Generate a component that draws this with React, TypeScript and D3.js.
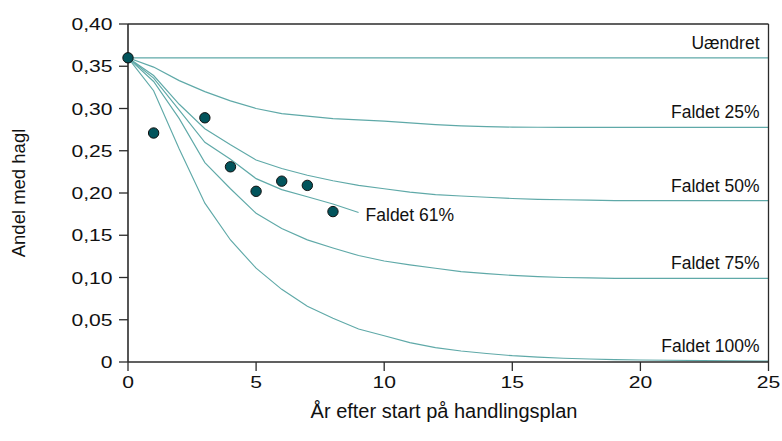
import React from "react";
import * as d3 from "d3";

const years = [0, 1, 2, 3, 4, 5, 6, 7, 8, 9, 10, 11, 12, 13, 14, 15, 16, 17, 18, 19, 20, 25];

const uaendret = [0.36, 0.36, 0.36, 0.36, 0.36, 0.36, 0.36, 0.36, 0.36, 0.36, 0.36, 0.36, 0.36, 0.36, 0.36, 0.36, 0.36, 0.36, 0.36, 0.36, 0.36, 0.36];
const faldet25 = [0.36, 0.349, 0.333, 0.32, 0.309, 0.3, 0.294, 0.291, 0.288, 0.2865, 0.285, 0.283, 0.281, 0.2795, 0.2785, 0.278, 0.2778, 0.2777, 0.2777, 0.2777, 0.2777, 0.2777];
const faldet50 = [0.36, 0.339, 0.305, 0.276, 0.257, 0.239, 0.229, 0.221, 0.2145, 0.209, 0.205, 0.201, 0.198, 0.1964, 0.195, 0.1935, 0.1925, 0.192, 0.1915, 0.191, 0.191, 0.191];
const faldet75 = [0.36, 0.332, 0.288, 0.236, 0.205, 0.176, 0.158, 0.1445, 0.135, 0.126, 0.1195, 0.115, 0.111, 0.1069, 0.1045, 0.1025, 0.101, 0.1, 0.0995, 0.099, 0.099, 0.099];
const faldet100 = [0.36, 0.321, 0.252, 0.188, 0.1444, 0.111, 0.086, 0.066, 0.0517, 0.039, 0.031, 0.023, 0.017, 0.013, 0.01, 0.0075, 0.0058, 0.0044, 0.0035, 0.0028, 0.0024, 0.001];

const years61 = [0, 1, 2, 3, 4, 5, 6, 7, 8, 9];
const faldet61 = [0.36, 0.336, 0.298, 0.26, 0.24, 0.217, 0.204, 0.1956, 0.187, 0.177];

const obsYears = [0, 1, 3, 4, 5, 6, 7, 8];
const obsValues = [0.36, 0.271, 0.289, 0.231, 0.202, 0.214, 0.209, 0.178];

const seriesLabels = ["Uændret", "Faldet 25%", "Faldet 50%", "Faldet 75%", "Faldet 100%"];
const label61 = "Faldet 61%";

const xTicks = [0, 5, 10, 15, 20, 25];
const yTicks = [0, 0.05, 0.1, 0.15, 0.2, 0.25, 0.3, 0.35, 0.4];

const xTitle = "År efter start på handlingsplan";
const yTitle = "Andel med hagl";

const W = 782;
const H = 441;
const M = { left: 128, right: 13.5, top: 24, bottom: 79 };
const FONT = "'Liberation Sans', Arial, Helvetica, sans-serif";
const LINE = "#5fa9a8";
const AXIS = "#2b2b2b";
const STRETCH = 1.28;

export default function App() {
  const x = d3.scaleLinear().domain([0, 25]).range([M.left, W - M.right]);
  const y = d3.scaleLinear().domain([0, 0.4]).range([H - M.bottom, M.top]);

  const lineGen = d3
    .line<[number, number]>()
    .x((d) => x(d[0]))
    .y((d) => y(d[1]))
    .curve(d3.curveLinear);

  const allSeries = [uaendret, faldet25, faldet50, faldet75, faldet100];
  const fmt = (v: number) => (v === 0 ? "0" : d3.format(".2f")(v).replace(".", ","));

  const x0 = x(0);
  const x1 = x(25);
  const yb = y(0);
  const yt = y(0.4);

  return (
    <svg
      width={W}
      height={H}
      style={{ position: "absolute", left: 0, top: 0, display: "block", background: "#fff" }}
      fontFamily={FONT}
    >
      {/* series lines */}
      {allSeries.map((vals, i) => (
        <path
          key={"s" + i}
          d={lineGen(years.map((yr, j) => [yr, vals[j]] as [number, number])) || ""}
          fill="none"
          stroke={LINE}
          strokeWidth={1.15}
        />
      ))}
      <path
        d={lineGen(years61.map((yr, j) => [yr, faldet61[j]] as [number, number])) || ""}
        fill="none"
        stroke={LINE}
        strokeWidth={1.15}
      />

      {/* frame */}
      <line x1={x0} x2={x1} y1={yt} y2={yt} stroke={AXIS} strokeWidth={1.3} />
      <line x1={x1} x2={x1} y1={yt} y2={yb} stroke={AXIS} strokeWidth={1.3} />
      <line x1={x0} x2={x0} y1={yt} y2={yb} stroke={AXIS} strokeWidth={1.6} />
      <line x1={x0} x2={x1} y1={yb} y2={yb} stroke={AXIS} strokeWidth={1.6} />

      {/* y ticks */}
      {yTicks.map((t) => (
        <g key={"yt" + t}>
          <line x1={x0 - 9} x2={x0} y1={y(t)} y2={y(t)} stroke={AXIS} strokeWidth={1.3} />
          <g transform={`translate(${x0 - 15.5},${y(t) + 6}) scale(${STRETCH},1)`}>
            <text x={0} y={0} textAnchor="end" fontSize={16.5} fill="#111">
              {fmt(t)}
            </text>
          </g>
        </g>
      ))}

      {/* x ticks */}
      {xTicks.map((t) => (
        <g key={"xt" + t}>
          <line x1={x(t)} x2={x(t)} y1={yb} y2={yb + 9} stroke={AXIS} strokeWidth={1.3} />
          <g transform={`translate(${x(t)},${yb + 26}) scale(${STRETCH},1)`}>
            <text x={0} y={0} textAnchor="middle" fontSize={16.5} fill="#111">
              {t}
            </text>
          </g>
        </g>
      ))}

      {/* series labels */}
      {allSeries.map((vals, i) => (
        <text
          key={"l" + i}
          x={x(25) - 9}
          y={y(vals[vals.length - 1]) - 9}
          textAnchor="end"
          fontSize={17.5}
          fill="#111"
        >
          {seriesLabels[i]}
        </text>
      ))}
      <text x={x(9) + 7} y={y(faldet61[faldet61.length - 1]) + 9} fontSize={17.5} fill="#111">
        {label61}
      </text>

      {/* observations */}
      {obsYears.map((yr, i) => (
        <circle
          key={"o" + i}
          cx={x(yr)}
          cy={y(obsValues[i])}
          r={5.2}
          fill="#02545c"
          stroke="#111"
          strokeWidth={1}
        />
      ))}

      {/* axis titles */}
      <text x={444} y={418} textAnchor="middle" fontSize={20} fill="#111">
        {xTitle}
      </text>
      <text
        transform={`translate(25,${(yt + yb) / 2}) rotate(-90)`}
        textAnchor="middle"
        fontSize={18.5}
        fill="#111"
      >
        {yTitle}
      </text>
    </svg>
  );
}
